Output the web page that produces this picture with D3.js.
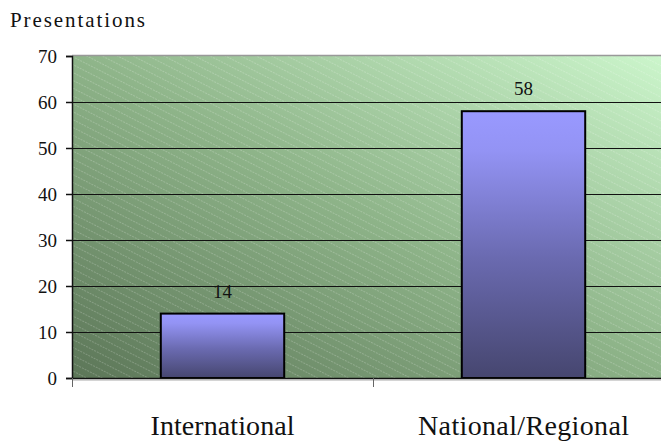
<!DOCTYPE html>
<html>
<head>
<meta charset="utf-8">
<script src="https://cdn.jsdelivr.net/npm/d3@7"></script>
<style>
  html, body { margin: 0; padding: 0; background: #fff; }
  svg { display: block; }
  text { font-family: "Liberation Serif", "DejaVu Serif", serif; fill: #111; }
</style>
</head>
<body>
<svg id="chart" width="661" height="442"></svg>
<script>
// Presentations by scope
const categories = ["International", "National/Regional"];
const presentations = [14, 58];
const yTicks = [0, 10, 20, 30, 40, 50, 60, 70];
const axisTitle = "Presentations";

const svg = d3.select("#chart");
const W = 661, H = 442;
const plot = { left: 72, top: 56, right: 674, bottom: 378 };

const x = d3.scaleBand().domain(categories).range([plot.left, plot.right]).paddingInner(0.59).paddingOuter(0.295);
const xBand = d3.scaleBand().domain(categories).range([plot.left, plot.right]);
const y = d3.scaleLinear().domain([0, 70]).range([plot.bottom, plot.top]);

const defs = svg.append("defs");

// plot-area background: diagonal green gradient
const bg = defs.append("linearGradient").attr("id", "bgGrad")
  .attr("x1", "0").attr("y1", "1").attr("x2", "1").attr("y2", "0");
bg.append("stop").attr("offset", "0").attr("stop-color", "#5c7658");
bg.append("stop").attr("offset", "0.5").attr("stop-color", "#8eb489");
bg.append("stop").attr("offset", "1").attr("stop-color", "#cdf7cd");

// faint dashed diagonal hatching over the background
const hatch = defs.append("pattern").attr("id", "hatch")
  .attr("patternUnits", "userSpaceOnUse").attr("width", 12).attr("height", 7)
  .attr("patternTransform", "rotate(27)");
hatch.append("line").attr("x1", 0).attr("y1", 3.5).attr("x2", 12).attr("y2", 3.5)
  .attr("stroke", "#ffffff").attr("stroke-opacity", 0.2).attr("stroke-width", 1)
  .attr("stroke-dasharray", "2,1");

// bar fill: light violet at top to dark slate at bottom
const barGrad = defs.append("linearGradient").attr("id", "barGrad")
  .attr("x1", "0").attr("y1", "0").attr("x2", "0").attr("y2", "1");
barGrad.append("stop").attr("offset", "0").attr("stop-color", "#9999ff");
barGrad.append("stop").attr("offset", "0.15").attr("stop-color", "#9393f4");
barGrad.append("stop").attr("offset", "0.55").attr("stop-color", "#6a6ab0");
barGrad.append("stop").attr("offset", "1").attr("stop-color", "#46466f");

defs.append("clipPath").attr("id", "clipW")
  .append("rect").attr("x", 0).attr("y", 0).attr("width", W).attr("height", H);

// stretch letter spacing so a label fills the given width
function fit(sel, width) {
  sel.attr("textLength", width).attr("lengthAdjust", "spacing");
}

const g = svg.append("g").attr("clip-path", "url(#clipW)");

g.append("rect").attr("x", plot.left).attr("y", plot.top)
  .attr("width", plot.right - plot.left).attr("height", plot.bottom - plot.top)
  .attr("fill", "url(#bgGrad)");
g.append("rect").attr("x", plot.left).attr("y", plot.top)
  .attr("width", plot.right - plot.left).attr("height", plot.bottom - plot.top)
  .attr("fill", "url(#hatch)");

// top border of plot area
g.append("line").attr("x1", plot.left).attr("x2", plot.right)
  .attr("y1", plot.top - 0.5).attr("y2", plot.top - 0.5)
  .attr("stroke", "#999").attr("stroke-width", 1.5);

// gridlines
g.append("g").selectAll("line").data(yTicks.filter(d => d > 0 && d < 70)).join("line")
  .attr("x1", plot.left).attr("x2", plot.right)
  .attr("y1", d => Math.round(y(d)) + 0.5).attr("y2", d => Math.round(y(d)) + 0.5)
  .attr("stroke", "#111").attr("stroke-width", 1.2);

// bars
g.append("g").selectAll("rect").data(categories).join("rect")
  .attr("x", d => x(d)).attr("width", x.bandwidth())
  .attr("y", (d, i) => y(presentations[i]))
  .attr("height", (d, i) => y(0) - y(presentations[i]))
  .attr("fill", "url(#barGrad)")
  .attr("stroke", "#000").attr("stroke-width", 2);

// value labels
g.append("g").selectAll("text").data(categories).join("text")
  .attr("x", d => x(d) + x.bandwidth() / 2)
  .attr("y", (d, i) => y(presentations[i]) - 16)
  .attr("text-anchor", "middle").attr("font-size", 19)
  .text((d, i) => presentations[i]);

// y axis
const yAxis = d3.axisLeft(y).tickValues(yTicks).tickSize(6).tickPadding(9);
const ya = svg.append("g").attr("transform", `translate(${plot.left},0)`).call(yAxis);
ya.attr("font-size", null).attr("font-family", null);
ya.select(".domain").attr("stroke", "#111").attr("stroke-width", 1.5);
ya.selectAll(".tick line").attr("stroke", "#111").attr("stroke-width", 1.5);
ya.selectAll(".tick text").attr("font-size", 19).attr("fill", "#111");

// x axis baseline and category divider ticks
const xa = svg.append("g");
xa.append("line").attr("x1", plot.left).attr("x2", W)
  .attr("y1", plot.bottom + 0.5).attr("y2", plot.bottom + 0.5)
  .attr("stroke", "#111").attr("stroke-width", 1.5);
xa.append("line").attr("x1", plot.left).attr("x2", W)
  .attr("y1", plot.bottom + 2).attr("y2", plot.bottom + 2)
  .attr("stroke", "#aaa").attr("stroke-width", 1);
xa.selectAll("line.div").data(categories).join("line").attr("class", "div")
  .attr("x1", d => xBand(d) + 0.5).attr("x2", d => xBand(d) + 0.5)
  .attr("y1", plot.bottom).attr("y2", plot.bottom + 9)
  .attr("stroke", "#666").attr("stroke-width", 1);

// category labels
const catWidths = [144, 211];
xa.selectAll("text").data(categories).join("text")
  .attr("x", d => xBand(d) + xBand.bandwidth() / 2)
  .attr("y", 435)
  .attr("text-anchor", "middle").attr("font-size", 28)
  .text(d => d)
  .each(function(d, i) { fit(d3.select(this), catWidths[i]); });

// axis title
svg.append("text").attr("x", 10).attr("y", 27).attr("font-size", 21).text(axisTitle)
  .call(fit, 135);
</script>
</body>
</html>
